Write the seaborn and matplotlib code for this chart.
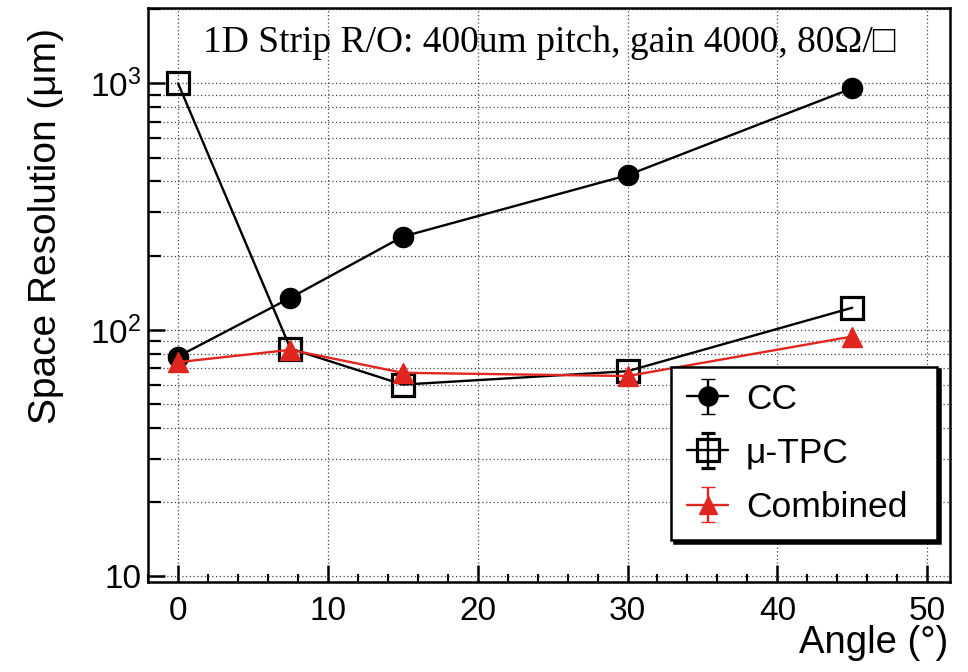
import numpy as np
import pandas as pd
import matplotlib
matplotlib.use("Agg")
import matplotlib.pyplot as plt
import seaborn as sns
from matplotlib.ticker import FixedLocator, FixedFormatter, NullFormatter

# values
angles = [0, 7.5, 15, 30, 45]
cc = [78, 135, 239, 424, 955]
mu_tpc = [1000, 84, 60, 68, 123]
combined = [74, 83, 67, 65, 94]

series_names = ["CC", "\u03bc-TPC", "Combined"]
title_text = "1D Strip R/O: 400um pitch, gain 4000, 80\u03a9/\u25a1"

sns.set_style("ticks")
plt.rcParams["font.family"] = ["Liberation Sans", "DejaVu Sans"]
plt.rcParams["mathtext.default"] = "regular"
for key in ("text.color", "axes.labelcolor", "xtick.color", "ytick.color"):
    plt.rcParams[key] = "black"

fig = plt.figure(figsize=(9.68, 6.72), dpi=100)
ax = fig.add_axes([0.153, 0.134, 0.828, 0.854])

df = pd.DataFrame({"angle": angles * 3,
                   "res": cc + mu_tpc + combined,
                   "series": [series_names[0]] * 5 + [series_names[1]] * 5 + [series_names[2]] * 5})

styles = {
    series_names[0]: dict(color="black", marker="o", markersize=14.5, mfc="black", mec="black", mew=1),
    series_names[1]: dict(color="black", marker="s", markersize=16.5, mfc="none", mec="black", mew=2.3),
    series_names[2]: dict(color="#e0261f", marker="^", markersize=14, mfc="#e0261f", mec="#e0261f", mew=1),
}

for i, name in enumerate(series_names):
    sub = df[df["series"] == name]
    st = styles[name]
    sns.lineplot(data=sub, x="angle", y="res", ax=ax, color=st["color"], linewidth=1.7,
                 marker=st["marker"], markersize=st["markersize"], markerfacecolor=st["mfc"],
                 markeredgecolor=st["mec"], markeredgewidth=st["mew"], zorder=3 + i, legend=False)
    # dummy errorbar artist, only used for the ROOT-style legend entry
    ax.errorbar([np.nan], [np.nan], yerr=[0], color=st["color"], linewidth=1.7,
                marker=st["marker"], markersize=st["markersize"] * 0.95, mfc=st["mfc"],
                mec=st["mec"], mew=st["mew"], capsize=5, elinewidth=1.7, capthick=1.7, label=name)

ax.set_yscale("log")
ax.set_xlim(-2, 51.5)
ax.set_ylim(9.5, 2020)

ax.xaxis.set_major_locator(FixedLocator([0, 10, 20, 30, 40, 50]))
ax.xaxis.set_minor_locator(FixedLocator(np.arange(-2, 52, 2)))
ax.yaxis.set_major_locator(FixedLocator([10, 100, 1000]))
ax.yaxis.set_major_formatter(FixedFormatter(["10", "$10^2$", "$10^3$"]))
minor_y = [m * d for d in (10, 100, 1000) for m in range(2, 10) if m * d < 2020]
ax.yaxis.set_minor_locator(FixedLocator(minor_y))
ax.yaxis.set_minor_formatter(NullFormatter())

ax.tick_params(axis="both", which="major", direction="in", length=12, width=1.8,
               labelsize=24, color="black", labelcolor="black")
ax.tick_params(axis="x", which="minor", direction="in", length=6, width=1.5, color="black")
ax.tick_params(axis="y", which="minor", direction="in", length=9, width=1.6, color="black")
ax.tick_params(axis="x", which="major", pad=10)
ax.tick_params(axis="y", which="major", pad=5)

ax.grid(True, which="major", axis="x", linestyle=(0, (1, 2)), color="#444444", linewidth=0.9)
ax.grid(True, which="both", axis="y", linestyle=(0, (1, 2)), color="#444444", linewidth=0.9)

for sp in ax.spines.values():
    sp.set_linewidth(1.8)
    sp.set_color("black")

ax.set_xlabel("Angle (\u00b0)", fontsize=27.5, loc="right")
ax.xaxis.set_label_coords(0.998, -0.075)
ax.set_ylabel("Space Resolution (\u03bcm)", fontsize=28, loc="top")
ax.yaxis.set_label_coords(-0.105, 0.965)

ax.text(0.5, 0.94, title_text, transform=ax.transAxes, ha="center", va="center",
        fontsize=27, family=["Liberation Serif", "DejaVu Serif"], zorder=10)

leg = ax.legend(loc="lower left", bbox_to_anchor=(0.653, 0.073, 0.331, 0.305), mode="expand",
                borderaxespad=0, fontsize=25.5, frameon=True, fancybox=False, edgecolor="black",
                framealpha=1, borderpad=0.45, labelspacing=0.6, handlelength=1.15, handletextpad=0.5,
                shadow={"color": "black", "alpha": 1, "ox": 2, "oy": -2})
leg.get_frame().set_linewidth(1.8)
leg.set_zorder(20)

fig.savefig("out.png", dpi=100)
